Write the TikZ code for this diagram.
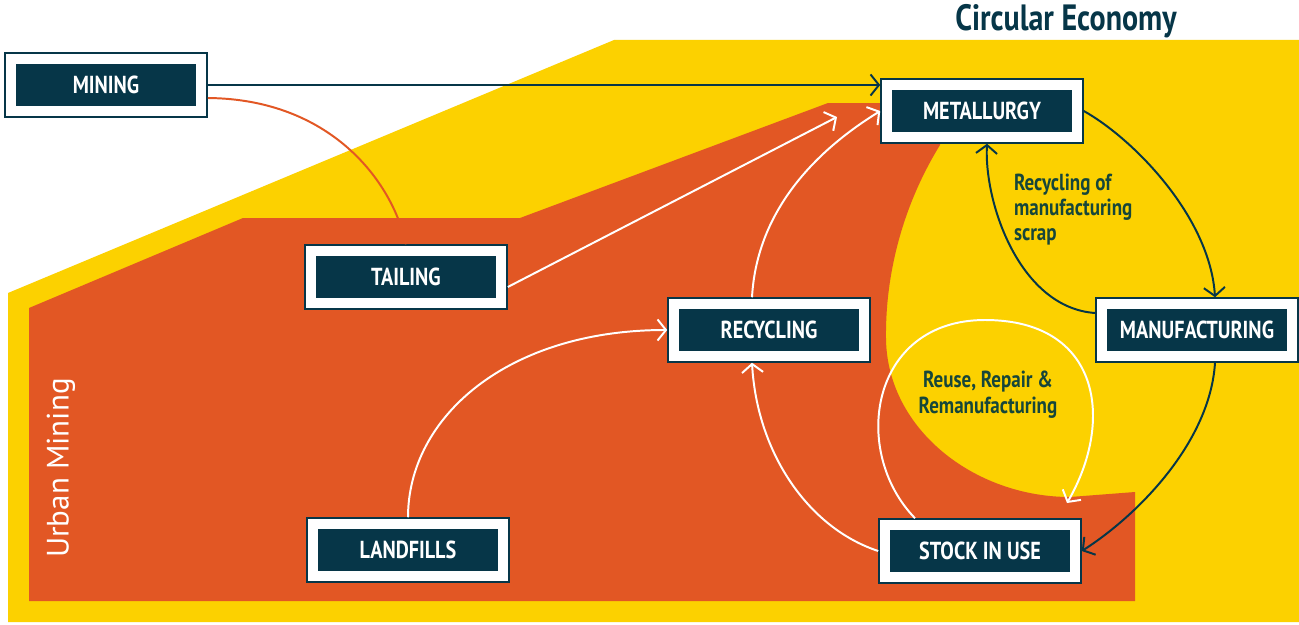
\documentclass[tikz,border=0pt]{standalone}
\usepackage{fontspec}
\setmainfont{PT Sans}
\newfontfamily\boxfont[FakeStretch=0.82]{PT Sans}
\usetikzlibrary{arrows.meta,calc}
\definecolor{ink}{RGB}{6,54,72}
\definecolor{sun}{RGB}{252,209,0}
\definecolor{rust}{RGB}{226,87,36}
\definecolor{moss}{RGB}{22,70,58}
\begin{document}
\begin{tikzpicture}[x=0.025cm, y=-0.025cm, ->, >={Straight Barb[length=6pt,width=15pt]}, line width=1.4pt,
    stage node/.style={rectangle, fill=ink, draw=ink, double=white, double distance=6.8pt, minimum width=4.75cm, minimum height=1.3cm, inner sep=0pt, outer sep=4.8pt, text=white, font=\boxfont\bfseries\fontsize{17.5}{19}\selectfont}]
        \useasboundingbox (0,0) rectangle (1299,624);
        \fill[white, -] (0,0) rectangle (1299,624);
        \fill[sun, -] (8,293) -- (614,40) -- (1299,40) -- (1299,622) -- (8,622) -- cycle;
        \fill[rust, -] (29,308) -- (243,218) -- (520,218) -- (828,103) -- (940,103) -- (940,145)
            .. controls (900,210) and (885,280) .. (886,340)
            .. controls (888,430) and (975,497) .. (1070,497) -- (1135,492) -- (1135,601) -- (29,601) -- cycle;

          \node[stage node] (mining) at (106,85) {MINING};
          \node[stage node] (metal) at (982,111) {METALLURGY};
          \node[stage node] (manuf) at (1197,330) {MANUFACTURING};
          \node[stage node] (recycling) at (769,330) {RECYCLING};
          \node[stage node] (stock) at (980,551) {STOCK IN USE};
          \node[stage node] (tailing) at (406,277) {TAILING};
          \node[stage node] (landfills) at (408,550) {LANDFILLS};

          \node[text=ink, font=\boxfont\bfseries\fontsize{26}{28}\selectfont] (title) at (1066,21) {Circular Economy};
          \node[text=white, rotate=90, font=\fontsize{22}{24}\selectfont] (urban) at (61,468) {Urban Mining};
          \node[text=moss, align=left, anchor=north west, inner sep=0pt, font=\boxfont\bfseries\fontsize{16.5}{17.8}\selectfont] (scrap) at (1013,173) {Recycling of\\manufacturing\\scrap};
          \node[text=moss, align=center, anchor=north, inner sep=0pt, font=\boxfont\bfseries\fontsize{16.5}{18.5}\selectfont] (reuse) at (988,370) {Reuse, Repair \&\\Remanufacturing};

          \coordinate (tailtip) at (837,117);
          \coordinate (looptip) at (1067,503);

          \draw[ink] (mining) -- (mining -| metal.west);
          \draw[rust, -] ($(mining.east)+(0,13)$) .. controls +(122,1) and +(-14,-64) .. (tailing.north);
          \draw[white] ($(tailing.east)+(0,10)$) -- (tailtip);
          \draw[white] ($(recycling.north)+(-17,0)$) .. controls +(5,-90) and +(-60,37) .. (metal.west);
          \draw[white] (landfills.north) .. controls +(0,-100) and +(-160,0) .. (recycling.west);
          \draw[white] (stock.west) .. controls +(-70,-23) and +(5,90) .. ($(recycling.south)+(-17,0)$);
          \draw[white] ($(stock.north)+(-65,0)$) .. controls +(-65,-67) and +(-115,0) .. (985,320)
              .. controls +(115,0) and +(48,-83) .. (looptip);
          \draw[ink] (metal.east) .. controls +(50,28) and +(-5,-80) .. ($(manuf.north)+(18,0)$);
          \draw[ink] ($(manuf.west)+(0,-17)$) .. controls +(-75,-5) and +(-3,60) .. ($(metal.south)+(5,0)$);
          \draw[ink] ($(manuf.south)+(18,0)$) .. controls +(-5,80) and +(55,-35) .. (stock.east);
\end{tikzpicture}
\end{document}
